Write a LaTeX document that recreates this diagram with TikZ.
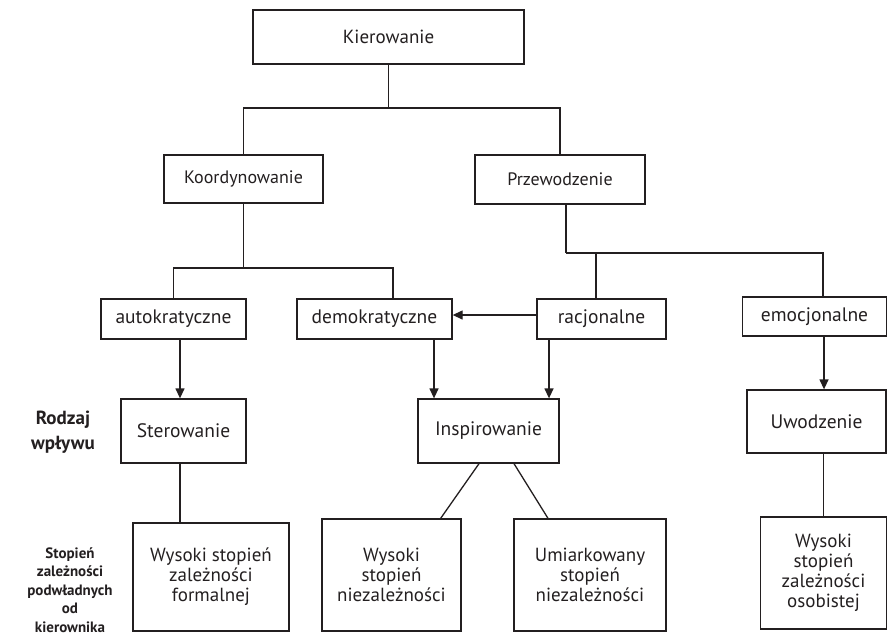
\documentclass[tikz,border=0pt]{standalone}
\usepackage{fontspec}
\setmainfont{PT Sans}
\usetikzlibrary{arrows.meta}
\definecolor{ink}{HTML}{231F20}
\begin{document}
\begin{tikzpicture}[x=1pt,y=-1pt,
  box/.style={draw=ink,line width=1.3pt,rectangle,inner sep=2pt,align=center,text=ink,
    font=\fontsize{19.5}{20}\selectfont},
  top/.style={box,font=\fontsize{18}{20}\selectfont},
  low/.style={box,font=\fontsize{19}{20}\selectfont},
  lbl/.style={align=center,text=ink,inner sep=0pt},
  conn/.style={draw=ink,line width=1.3pt},
  arr/.style={conn,-{Triangle[length=10pt,width=9pt]}}]
\useasboundingbox (0,0) rectangle (888,637);
% boxes
\node[top,font=\fontsize{19}{20}\selectfont,minimum width=271pt,minimum height=54pt] (kier) at (388.5,37) {Kierowanie};
\node[top,minimum width=159pt,minimum height=48pt] (koord) at (243.5,179) {Koordynowanie};
\node[top,minimum width=170pt,minimum height=49pt] (przew) at (560,179.5) {Przewodzenie};
\node[box,minimum width=145pt,minimum height=40pt] (auto) at (173.5,319) {autokratyczne};
\node[box,minimum width=155pt,minimum height=40pt] (demo) at (374.5,319) {demokratyczne};
\node[box,minimum width=129pt,minimum height=40pt] (racj) at (601.5,319) {racjonalne};
\node[box,minimum width=144pt,minimum height=39pt] (emoc) at (814.5,316.5) {emocjonalne};
\node[box,minimum width=125pt,minimum height=64pt] (ster) at (183.5,431) {Sterowanie};
\node[box,minimum width=141pt,minimum height=64pt] (insp) at (488.5,431) {Inspirowanie};
\node[box,minimum width=139pt,minimum height=63pt] (uwod) at (816.5,421.5) {Uwodzenie};
\node[low,minimum width=156pt,minimum height=108pt] (wf) at (211,577) {Wysoki stopień\\zależności\\formalnej};
\node[low,minimum width=139pt,minimum height=112pt] (wn) at (391.5,575) {Wysoki\\stopień\\niezależności};
\node[low,minimum width=152pt,minimum height=112pt] (um) at (590,575) {Umiarkowany\\stopień\\niezależności};
\node[low,minimum width=126pt,minimum height=112pt] (wo) at (823.5,573) {Wysoki\\stopień\\zależności\\osobistej};
% side labels
\node[lbl,font=\bfseries\fontsize{19}{25}\selectfont] (rodz) at (63,432) {Rodzaj\\wpływu};
\node[lbl,font=\bfseries\fontsize{15}{18.5}\selectfont] (stop) at (70,590) {Stopień\\zależności\\podwładnych\\od\\kierownika};
% tree connectors
\coordinate (j1) at (388.5,108);
\draw[conn] (kier.south) -- (j1);
\draw[conn] (koord.north) |- (j1) -| (przew.north);
\coordinate (j2) at (243.5,268);
\draw[conn] (koord.south) -- (j2);
\draw[conn] (auto.north) |- (j2) -| ([xshift=18.5pt]demo.north);
\coordinate (j3) at (566,253);
\draw[conn] ([xshift=6pt]przew.south) -- (j3);
\draw[conn] ([xshift=-5.5pt]racj.north) |- (j3) -| ([xshift=8.5pt]emoc.north);
% arrows
\draw[arr] ([yshift=4pt]racj.west) -- ([yshift=4pt]demo.east);
\draw[arr] ([xshift=6.5pt]auto.south) coordinate (a1) -- (a1 |- ster.north);
\draw[arr] ([xshift=59.5pt]demo.south) coordinate (a2) -- (a2 |- insp.north);
\draw[arr] ([xshift=-52.5pt]racj.south) coordinate (a3) -- (a3 |- insp.north);
\draw[arr] ([xshift=9.5pt]emoc.south) coordinate (a4) -- (a4 |- uwod.north);
% lower connectors
\draw[conn] (a1 |- ster.south) -- (a1 |- wf.north);
\draw[conn] ([xshift=-9.5pt]insp.south) -- ([xshift=-21pt]wn.north east);
\draw[conn] ([xshift=25.5pt]insp.south) -- ([xshift=-42pt]um.north);
\draw[conn] ([xshift=7pt]uwod.south) coordinate (a5) -- (a5 |- wo.north);
\end{tikzpicture}
\end{document}
